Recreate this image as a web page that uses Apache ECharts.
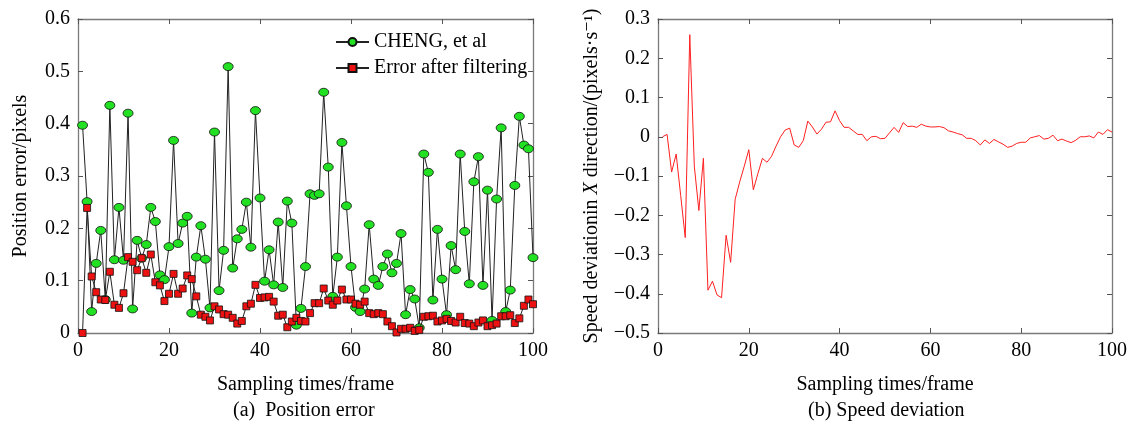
<!DOCTYPE html>
<html><head><meta charset="utf-8">
<script src="https://cdn.jsdelivr.net/npm/echarts@6/dist/echarts.min.js"></script>
<style>html,body{margin:0;padding:0;background:#fff}#c{width:1130px;height:427px}</style>
</head><body><div id="c"></div>
<script>
const frames = Array.from({length:100},(_,i)=>i+1);
const chengError = [0.397,0.251,0.041,0.133,0.196,0.064,0.435,0.140,0.240,0.139,
0.420,0.046,0.177,0.143,0.169,0.240,0.213,0.111,0.102,0.165,
0.368,0.171,0.210,0.223,0.038,0.145,0.205,0.141,0.048,0.384,
0.081,0.158,0.509,0.124,0.180,0.198,0.250,0.164,0.425,0.258,
0.099,0.159,0.092,0.212,0.087,0.252,0.210,0.015,0.047,0.127,
0.266,0.263,0.266,0.460,0.317,0.070,0.145,0.364,0.243,0.127,
0.049,0.041,0.084,0.207,0.103,0.091,0.127,0.151,0.115,0.133,
0.190,0.035,0.083,0.065,0.010,0.342,0.307,0.063,0.198,0.103,
0.035,0.167,0.121,0.342,0.194,0.094,0.289,0.337,0.091,0.273,
0.024,0.256,0.392,0.041,0.082,0.282,0.414,0.359,0.352,0.144];
const filteredError = [0.000,0.239,0.108,0.078,0.064,0.063,0.117,0.054,0.048,0.076,
0.145,0.136,0.120,0.143,0.115,0.150,0.097,0.091,0.061,0.075,
0.113,0.075,0.085,0.110,0.103,0.070,0.035,0.031,0.024,0.051,
0.045,0.036,0.035,0.029,0.018,0.023,0.051,0.056,0.092,0.067,
0.068,0.069,0.060,0.033,0.035,0.011,0.022,0.029,0.023,0.022,
0.038,0.057,0.057,0.085,0.062,0.054,0.062,0.083,0.064,0.064,
0.056,0.054,0.060,0.038,0.036,0.038,0.036,0.022,0.013,0.001,
0.008,0.008,0.010,0.004,0.006,0.031,0.032,0.033,0.022,0.024,
0.027,0.023,0.020,0.031,0.019,0.018,0.013,0.020,0.024,0.013,
0.015,0.018,0.032,0.032,0.034,0.019,0.028,0.052,0.064,0.055];
const speedDeviation = [0.000,0.006,-0.090,-0.044,-0.150,-0.257,0.260,-0.075,-0.188,-0.055,
-0.391,-0.368,-0.403,-0.410,-0.251,-0.320,-0.159,-0.115,-0.075,-0.033,
-0.135,-0.094,-0.055,-0.065,-0.050,-0.024,0.000,0.017,0.022,-0.021,
-0.027,-0.010,0.040,0.025,0.007,0.019,0.037,0.038,0.066,0.041,
0.024,0.024,0.015,0.006,0.006,-0.010,0.000,0.001,-0.005,-0.004,
0.010,0.024,0.011,0.036,0.026,0.027,0.024,0.032,0.027,0.025,
0.025,0.026,0.023,0.015,0.012,0.008,0.005,-0.004,-0.004,-0.010,
-0.021,-0.008,-0.017,-0.007,-0.013,-0.019,-0.027,-0.024,-0.017,-0.014,
-0.014,-0.003,0.000,0.003,-0.006,-0.004,0.004,-0.010,-0.006,-0.011,
-0.015,-0.009,0.000,0.000,0.002,-0.003,0.012,0.006,0.018,0.012];
const seriesNames = ['CHENG, et al','Error after filtering'];
const captions = ['(a)  Position error','(b) Speed deviation'];
const xName = 'Sampling times/frame';
const yNameLeft = 'Position error/pixels';

const FONT = '"Liberation Serif","DejaVu Serif",serif';
const FS = 20;
const pair = arr => arr.map((v,i)=>[frames[i], v]);
const axisLine = {show:true, onZero:false, lineStyle:{color:'#7a7a7a', width:1.3}};
const tick = {show:true, inside:true, length:5, lineStyle:{color:'#555', width:1}};
const lab = {color:'#000', fontFamily:FONT, fontSize:FS};
const minus = v => String(+v.toFixed(1)).replace('-', '\u2212');

function xAxes(grid){
  return [
    {type:'value', gridIndex:grid, min:0, max:100, interval:20, position:'bottom',
     axisLine, axisTick:tick, splitLine:{show:false},
     axisLabel:Object.assign({margin:8}, lab),
     name:xName, nameLocation:'middle', nameGap:42,
     nameTextStyle:{color:'#000', fontFamily:FONT, fontSize:FS}},
    {type:'value', gridIndex:grid, min:0, max:100, interval:20, position:'top',
     axisLine, axisTick:tick, splitLine:{show:false}, axisLabel:{show:false}}
  ];
}
function yAxes(grid, min, max, name, gap, nameStyle){
  return [
    {type:'value', gridIndex:grid, min, max, interval:0.1, position:'left',
     axisLine, axisTick:tick, splitLine:{show:false},
     axisLabel:Object.assign({margin:8, formatter:minus}, lab),
     name, nameLocation:'middle', nameGap:gap, nameRotate:90,
     nameTextStyle:nameStyle},
    {type:'value', gridIndex:grid, min, max, interval:0.1, position:'right',
     axisLine, axisTick:tick, splitLine:{show:false}, axisLabel:{show:false}}
  ];
}

const chart = echarts.init(document.getElementById('c'), null, {renderer:'canvas'});
chart.setOption({
  animation:false,
  backgroundColor:'#fff',
  textStyle:{fontFamily:FONT},
  grid:[
    {left:78, top:19, width:455, height:314},
    {left:658, top:19, width:455, height:314}
  ],
  legend:{
    left:330, top:27, orient:'vertical', itemGap:6, itemWidth:33, itemHeight:10,
    textStyle:{color:'#000', fontFamily:FONT, fontSize:FS},
    data:seriesNames
  },
  xAxis:[...xAxes(0), ...xAxes(1)],
  yAxis:[
    ...yAxes(0, 0, 0.6, yNameLeft, 47, {color:'#000', fontFamily:FONT, fontSize:FS}),
    ...yAxes(1, -0.5, 0.3,
      '{n|Speed deviationin }{i|X}{n| direction/(pixels\u00b7s\u207b\u00b9)}', 56,
      {color:'#000', fontFamily:FONT, fontSize:FS,
       rich:{n:{fontFamily:FONT, fontSize:FS, color:'#000'},
             i:{fontFamily:FONT, fontSize:FS, fontStyle:'italic', color:'#000'}}})
  ],
  series:[
    {name:seriesNames[0], type:'line', xAxisIndex:0, yAxisIndex:0, data:pair(chengError),
     symbol:'circle', symbolSize:[10,8], showAllSymbol:true,
     lineStyle:{color:'#222', width:1}, itemStyle:{color:'#22e022', borderColor:'#111', borderWidth:0.8},
     z:2},
    {name:seriesNames[1], type:'line', xAxisIndex:0, yAxisIndex:0, data:pair(filteredError),
     symbol:'rect', symbolSize:7, showAllSymbol:true,
     lineStyle:{color:'#222', width:1}, itemStyle:{color:'#ee1111', borderColor:'#111', borderWidth:0.8},
     z:3},
    {name:'speed', type:'line', xAxisIndex:2, yAxisIndex:2, data:pair(speedDeviation),
     symbol:'none', lineStyle:{color:'#ff2020', width:1}}
  ],
  graphic:[
    {type:'text', left:233, top:401, style:{text:captions[0], fill:'#000', font:FS+'px '+FONT}},
    {type:'text', left:808, top:401, style:{text:captions[1], fill:'#000', font:FS+'px '+FONT}}
  ]
});
</script></body></html>
